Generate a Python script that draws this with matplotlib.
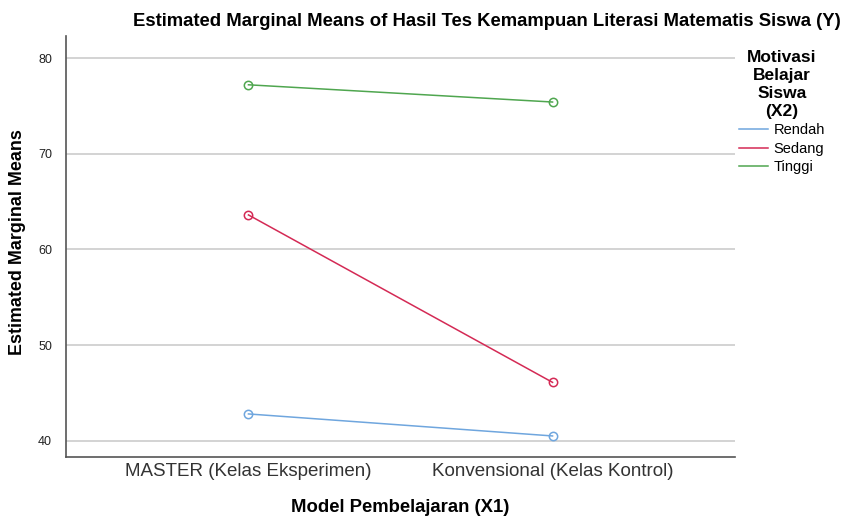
import matplotlib
matplotlib.use("Agg")
import matplotlib.pyplot as plt
from matplotlib.lines import Line2D

plt.rcParams['font.family'] = ['Liberation Sans', 'DejaVu Sans']

# data
kategori = ["MASTER (Kelas Eksperimen)", "Konvensional (Kelas Kontrol)"]
rendah = [42.8, 40.5]
sedang = [63.6, 46.1]
tinggi = [77.2, 75.4]
yticks = [40, 50, 60, 70, 80]

W, H = 844, 518
fig = plt.figure(figsize=(W/100, H/100), dpi=100)
ax = fig.add_axes([66/W, 1 - 457/H, (735-66)/W, (457-36)/H])

x = list(range(len(kategori)))
warna = {"Rendah": "#6fa6de", "Sedang": "#d42a55", "Tinggi": "#4fa64f"}
handles = []
for nama, vals in [("Rendah", rendah), ("Sedang", sedang), ("Tinggi", tinggi)]:
    ax.plot(x, vals, color=warna[nama], lw=1.1, marker="o", ms=6,
            mfc="none", mec=warna[nama], mew=1.1, zorder=3)
    handles.append(Line2D([], [], color=warna[nama], lw=1.1, label=nama))

ax.set_xlim(-0.6, 1.6)
ax.set_ylim(38.3, 82.3)
ax.set_yticks(yticks)
ax.set_xticks(x)
ax.set_xticklabels(kategori, fontsize=13.5, color="#333333")
ax.tick_params(axis="y", labelsize=9, length=0, pad=10, colors="#222222")
ax.tick_params(axis="x", length=0, pad=4)
ax.yaxis.grid(True, color="#cccccc", lw=1.2)
ax.set_axisbelow(True)
for s in ["top", "right"]:
    ax.spines[s].set_visible(False)
for s in ["left", "bottom"]:
    ax.spines[s].set_color("#555555")
    ax.spines[s].set_linewidth(1.2)

fig.text(18/W, 1 - 242/H, "Estimated Marginal Means", rotation=90,
         ha="center", va="center", fontsize=12.9, fontweight="bold")
fig.text(400/W, 1 - 508/H, "Model Pembelajaran (X1)",
         ha="center", va="center", fontsize=13.3, fontweight="bold")
fig.text(487/W, 1 - 21/H, "Estimated Marginal Means of Hasil Tes Kemampuan Literasi Matematis Siswa (Y)",
         ha="center", va="center", fontsize=13.3, fontweight="bold")

leg = ax.legend(handles=handles, title="Motivasi\nBelajar\nSiswa\n(X2)", loc="upper left",
                bbox_to_anchor=(739/W, 1 - 50/H), bbox_transform=fig.transFigure,
                frameon=False, fontsize=10.5, handlelength=2.0, handletextpad=0.35,
                labelspacing=0.3, borderaxespad=0, borderpad=0)
leg.get_title().set_fontweight("bold")
leg.get_title().set_fontsize(12.5)
leg.get_title().set_multialignment("center")
leg.get_title().set_linespacing(1.25)

fig.savefig("out.png", dpi=100)
